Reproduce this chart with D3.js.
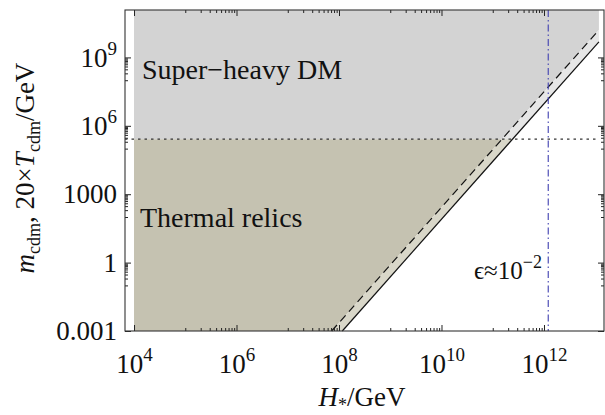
<!DOCTYPE html>
<html><head><meta charset="utf-8">
<script src="https://cdn.jsdelivr.net/npm/d3@7"></script>
<style>
body{margin:0;background:#fff}
svg{display:block}
text{font-family:"Liberation Serif","Times New Roman",serif;fill:#111}
</style>
</head><body><svg id="c" width="605" height="415"></svg>
<script>
// ---- data ----
const xTickValues = [1e4, 1e6, 1e8, 1e10, 1e12];
const xTickExponents = ["4", "6", "8", "10", "12"];
const yTickValues = [1e-3, 1, 1e3, 1e6, 1e9];
const yTickBases = ["0.001", "1", "1000", "10", "10"];
const yTickExponents = ["", "", "", "6", "9"];
const dashedH = [7.19e7, 1.18e13];
const dashedM = [1e-3, 1.6e10];
const solidH = [1.16e8, 1.18e13];
const solidM = [1e-3, 4.84e9];
const thresholdM = [2.6e5];
const epsilonH = [1.21e12];
const regionH = [1e4, 1.18e13];
const xLimits = [Math.pow(10, 3.824), Math.pow(10, 13.171)];
const yLimits = [1e-3, Math.pow(10, 11.08)];

// ---- layout ----
const L = 125, R = 604, T = 10, B = 331;
const svg = d3.select("#c");
const x = d3.scaleLog().domain(xLimits).range([L, R]);
const y = d3.scaleLog().domain(yLimits).range([B, T]);
const yThr = y(thresholdM[0]);

const defs = svg.append("defs");
defs.append("clipPath").attr("id", "upper").append("rect")
  .attr("x", L).attr("y", T).attr("width", R - L).attr("height", yThr - T);
defs.append("clipPath").attr("id", "lower").append("rect")
  .attr("x", L).attr("y", yThr).attr("width", R - L).attr("height", B - yThr);

const line = d3.line().x(d => x(d[0])).y(d => y(d[1]));
const dashedPts = dashedH.map((h, i) => [h, dashedM[i]]);
const solidPts = solidH.map((h, i) => [h, solidM[i]]);

// region left of dashed line
const leftRegion = [[regionH[0], yLimits[0]], dashedPts[0], dashedPts[1],
  [regionH[1], yLimits[1]], [regionH[0], yLimits[1]]];
// band between dashed and solid lines
const band = [dashedPts[0], solidPts[0], solidPts[1], dashedPts[1]];

svg.append("path").attr("d", line(leftRegion) + "Z").attr("fill", "#d3d3d3").attr("clip-path", "url(#upper)");
svg.append("path").attr("d", line(leftRegion) + "Z").attr("fill", "#c5c2b1").attr("clip-path", "url(#lower)");
svg.append("path").attr("d", line(band) + "Z").attr("fill", "#e6e6e6").attr("clip-path", "url(#upper)");
svg.append("path").attr("d", line(band) + "Z").attr("fill", "#d9d7c9").attr("clip-path", "url(#lower)");

// threshold dotted line
svg.append("line").attr("x1", L).attr("x2", x(regionH[1]))
  .attr("y1", yThr).attr("y2", yThr)
  .attr("stroke", "#333").attr("stroke-width", 1.3).attr("stroke-dasharray", "2.5,4");

// dashed and solid lines
svg.append("path").attr("d", line(dashedPts)).attr("fill", "none")
  .attr("stroke", "#111").attr("stroke-width", 1.2).attr("stroke-dasharray", "8,5");
svg.append("path").attr("d", line(solidPts)).attr("fill", "none")
  .attr("stroke", "#111").attr("stroke-width", 1.2);

// vertical dash-dot epsilon line
svg.append("line").attr("x1", x(epsilonH[0])).attr("x2", x(epsilonH[0]))
  .attr("y1", T).attr("y2", B)
  .attr("stroke", "#4040b0").attr("stroke-width", 1.1).attr("stroke-dasharray", "7,3,1.5,3");

// ---- axes ----
function minorOf(vals, skipFirst) {
  const out = [];
  vals.forEach((v, i) => {
    if (skipFirst && i === 0) return;
    for (let k = 1; k <= 9; k++) out.push(v / 10 * k);
  });
  return out;
}
const xMinor = minorOf(xTickValues, true);
const yMinor = minorOf(yTickValues, true);

function styleAxis(g) {
  g.select(".domain").remove();
  g.selectAll(".tick line").attr("stroke", "#222").attr("stroke-width", 1);
}

// bottom
const gb = svg.append("g").attr("transform", `translate(0,${B})`)
  .call(d3.axisBottom(x).tickValues(xTickValues).tickSizeInner(-6).tickSizeOuter(0).tickPadding(23).tickFormat(""));
styleAxis(gb);
gb.selectAll(".tick text").each(function(d, i) {
  const t = d3.select(this).attr("font-size", 27).attr("fill", "#111").attr("text-anchor", "middle");
  t.append("tspan").text("10");
  t.append("tspan").attr("dy", -12).attr("font-size", 19).text(xTickExponents[i]);
});
const gbm = svg.append("g").attr("transform", `translate(0,${B})`)
  .call(d3.axisBottom(x).tickValues(xMinor).tickSizeInner(-3).tickSizeOuter(0).tickFormat(""));
styleAxis(gbm);
// top
const gt = svg.append("g").attr("transform", `translate(0,${T})`)
  .call(d3.axisTop(x).tickValues(xTickValues).tickSizeInner(-6).tickSizeOuter(0).tickFormat(""));
styleAxis(gt);
const gtm = svg.append("g").attr("transform", `translate(0,${T})`)
  .call(d3.axisTop(x).tickValues(xMinor).tickSizeInner(-3).tickSizeOuter(0).tickFormat(""));
styleAxis(gtm);

// left
const gl = svg.append("g").attr("transform", `translate(${L},0)`)
  .call(d3.axisLeft(y).tickValues(yTickValues).tickSizeInner(-6).tickSizeOuter(0).tickPadding(8).tickFormat(""));
styleAxis(gl);
gl.selectAll(".tick text").each(function(d, i) {
  const t = d3.select(this).attr("font-size", 27).attr("fill", "#111").attr("dy", "0.32em");
  t.append("tspan").text(yTickBases[i]);
  if (yTickExponents[i]) t.append("tspan").attr("dy", -12).attr("font-size", 19).text(yTickExponents[i]);
});
const glm = svg.append("g").attr("transform", `translate(${L},0)`)
  .call(d3.axisLeft(y).tickValues(yMinor).tickSizeInner(-3).tickSizeOuter(0).tickFormat(""));
styleAxis(glm);
// right
const gr = svg.append("g").attr("transform", `translate(${R},0)`)
  .call(d3.axisRight(y).tickValues(yTickValues).tickSizeInner(-6).tickSizeOuter(0).tickFormat(""));
styleAxis(gr);
const grm = svg.append("g").attr("transform", `translate(${R},0)`)
  .call(d3.axisRight(y).tickValues(yMinor).tickSizeInner(-3).tickSizeOuter(0).tickFormat(""));
styleAxis(grm);

// frame
svg.append("rect").attr("x", L).attr("y", T).attr("width", R - L).attr("height", B - T)
  .attr("fill", "none").attr("stroke", "#333").attr("stroke-width", 1.1);

// ---- annotations ----
svg.append("text").attr("x", 142).attr("y", 79).attr("font-size", 28).text("Super\u2212heavy DM");
svg.append("text").attr("x", 140).attr("y", 227).attr("font-size", 28).text("Thermal relics");
const eps = svg.append("text").attr("x", 474).attr("y", 279).attr("font-size", 25);
eps.append("tspan").text("\u03F5\u224810");
eps.append("tspan").attr("dy", -11).attr("font-size", 18).text("\u22122");

// x label
const xl = svg.append("text").attr("x", 362).attr("y", 406).attr("font-size", 27).attr("text-anchor", "middle");
xl.append("tspan").attr("font-style", "italic").text("H");
xl.append("tspan").attr("dy", 5).attr("font-size", 18).text("*");
xl.append("tspan").attr("dy", -5).text("/GeV");

// y label
const yl = svg.append("text").attr("transform", "translate(34,168) rotate(-90)")
  .attr("font-size", 27).attr("text-anchor", "middle");
yl.append("tspan").attr("font-style", "italic").text("m");
yl.append("tspan").attr("dy", 6).attr("font-size", 18).text("cdm");
yl.append("tspan").attr("dy", -6).text(", 20\u00D7");
yl.append("tspan").attr("font-style", "italic").text("T");
yl.append("tspan").attr("dy", 6).attr("font-size", 18).text("cdm");
yl.append("tspan").attr("dy", -6).text("/GeV");
</script>
</body></html>
